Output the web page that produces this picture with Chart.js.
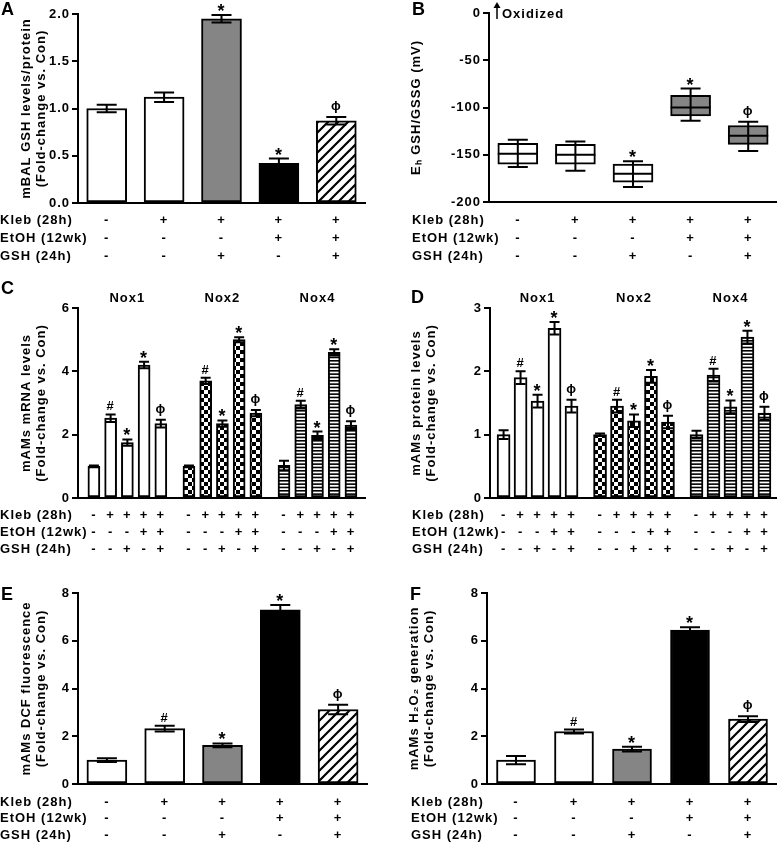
<!DOCTYPE html>
<html>
<head>
<meta charset="utf-8">
<script src="https://cdn.jsdelivr.net/npm/chart.js@4.4.0/dist/chart.umd.min.js"></script>
<style>
  body { margin: 0; background: #fff; width: 777px; height: 845px; position: relative; overflow: hidden; }
  canvas { position: absolute; }
</style>
</head>
<body>
<canvas id="chartA" width="390" height="268" style="left:0;top:0"></canvas>
<canvas id="chartB" width="387" height="268" style="left:390px;top:0"></canvas>
<canvas id="chartC" width="390" height="290" style="left:0;top:270px"></canvas>
<canvas id="chartD" width="387" height="290" style="left:390px;top:270px"></canvas>
<canvas id="chartE" width="390" height="285" style="left:0;top:560px"></canvas>
<canvas id="chartF" width="387" height="285" style="left:390px;top:560px"></canvas>
<script>
// treatment rows under every panel
const rowNames = ['Kleb (28h)', 'EtOH (12wk)', 'GSH (24h)'];
const klebSigns = ['-', '+', '+', '+', '+'];
const etohSigns = ['-', '-', '-', '+', '+'];
const gshSigns  = ['-', '-', '+', '-', '+'];

// A - BAL GSH
const balGsh    = [1.0, 1.12, 1.95, 0.42, 0.87];
const balGshErr = [0.04, 0.05, 0.04, 0.05, 0.04];
const balGshMarks = ['', '', '*', '*', 'ϕ'];

// B - Eh GSH/GSSG box plots
const ehMin = [-163, -167, -184, -114, -146];
const ehQ1  = [-160, -160, -179, -109, -139];
const ehMed = [-149, -150, -170, -100, -130];
const ehQ3  = [-138, -139, -160, -87, -119];
const ehMax = [-134, -136, -157, -80, -115];
const ehMarks = ['', '', '*', '*', 'ϕ'];

// C / D - Nox isoforms
const noxGenes = ['Nox1', 'Nox2', 'Nox4'];
const noxMarks = ['', '#', '*', '*', 'ϕ'];
const mrnaNox1 = [1.0, 2.52, 1.75, 4.2, 2.35];
const mrnaNox2 = [1.0, 3.7, 2.35, 5.0, 2.68];
const mrnaNox4 = [1.03, 2.95, 1.98, 4.6, 2.3];
const mrnaErr1 = [0.03, 0.12, 0.1, 0.1, 0.12];
const mrnaErr2 = [0.03, 0.1, 0.1, 0.08, 0.1];
const mrnaErr4 = [0.15, 0.12, 0.12, 0.1, 0.12];
const protNox1 = [1.0, 1.9, 1.53, 2.68, 1.45];
const protNox2 = [1.0, 1.45, 1.22, 1.92, 1.2];
const protNox4 = [1.0, 1.94, 1.44, 2.54, 1.34];
const protErr1 = [0.07, 0.1, 0.1, 0.1, 0.1];
const protErr2 = [0.02, 0.1, 0.1, 0.1, 0.1];
const protErr4 = [0.06, 0.1, 0.1, 0.1, 0.1];

// E / F - ROS
const rosMarks = ['', '#', '*', '*', 'ϕ'];
const dcf     = [1.0, 2.32, 1.62, 7.3, 3.12];
const dcfErr  = [0.08, 0.12, 0.08, 0.2, 0.2];
const h2o2    = [1.0, 2.2, 1.46, 6.45, 2.72];
const h2o2Err = [0.17, 0.08, 0.1, 0.12, 0.12];

const FONT = "'Liberation Sans', Arial, sans-serif";
const GAP = 0.68;   // extra space between Nox groups (in bar slots)
Chart.defaults.font.family = FONT;
Chart.defaults.font.weight = 'bold';
Chart.defaults.color = '#000';
Chart.defaults.animation = false;
Chart.defaults.plugins.legend.display = false;
Chart.defaults.plugins.tooltip.enabled = false;

function makePattern(w, h, draw) {
    const c = document.createElement('canvas');
    c.width = w; c.height = h;
    const g = c.getContext('2d');
    g.fillStyle = '#fff';
    g.fillRect(0, 0, w, h);
    g.fillStyle = '#000';
    g.strokeStyle = '#000';
    draw(g);
    return g.createPattern(c, 'repeat');
}
const hatch = makePattern(10, 10, g => {
    g.lineWidth = 2.2;
    g.beginPath();
    g.moveTo(-2, 2); g.lineTo(2, -2);
    g.moveTo(-1, 11); g.lineTo(11, -1);
    g.moveTo(8, 12); g.lineTo(12, 8);
    g.stroke();
});
const checker = makePattern(8, 8, g => {
    g.fillRect(0, 0, 4, 4);
    g.fillRect(4, 4, 4, 4);
});
const stripes = makePattern(4, 10, g => {
    g.fillRect(0, 0, 4, 1.6);
    g.fillRect(0, 3.33, 4, 1.6);
    g.fillRect(0, 6.67, 4, 1.6);
});
const GRAY = '#858585';

function signLines(i) {
    return [klebSigns[i % 5], etohSigns[i % 5], gshSigns[i % 5]];
}

function drawMark(ctx, ch, x, yTop) {
    if (!ch) return;
    ctx.textAlign = 'center';
    ctx.textBaseline = 'alphabetic';
    if (ch === '*') {
        ctx.font = 'bold 18px ' + FONT;
        ctx.fillText(ch, x, yTop + 3);
    } else if (ch === '#') {
        ctx.font = 'bold 13px ' + FONT;
        ctx.fillText(ch, x, yTop - 3);
    } else {
        ctx.font = 'bold 13px ' + FONT;
        ctx.fillText(ch, x, yTop - 6);
    }
}

// error bars, box whiskers, significance marks
const errorBars = {
    id: 'errorBars',
    afterDatasetsDraw(chart, args, opts) {
        const ctx = chart.ctx;
        const ys = chart.scales.y;
        ctx.save();
        ctx.strokeStyle = '#000';
        ctx.fillStyle = '#000';
        ctx.lineWidth = 2;
        chart.data.datasets.forEach((ds, di) => {
            chart.getDatasetMeta(di).data.forEach((bar, i) => {
                const cap = (opts.cap || bar.width / 2) / 2;
                let topPx;
                if (ds.errors) {
                    const hi = ys.getPixelForValue(ds.values[i] + ds.errors[i]);
                    const lo = ys.getPixelForValue(ds.values[i] - ds.errors[i]);
                    ctx.beginPath();
                    ctx.moveTo(bar.x, lo); ctx.lineTo(bar.x, hi);
                    ctx.moveTo(bar.x - cap, hi); ctx.lineTo(bar.x + cap, hi);
                    ctx.moveTo(bar.x - cap, lo); ctx.lineTo(bar.x + cap, lo);
                    ctx.stroke();
                    topPx = hi;
                } else if (ds.med) {
                    const half = bar.width / 2;
                    const m = ys.getPixelForValue(ds.med[i]);
                    const hi = ys.getPixelForValue(ds.hi[i]);
                    const lo = ys.getPixelForValue(ds.lo[i]);
                    ctx.beginPath();
                    ctx.moveTo(bar.x - half, m); ctx.lineTo(bar.x + half, m);
                    ctx.moveTo(bar.x, bar.y); ctx.lineTo(bar.x, hi);
                    ctx.moveTo(bar.x, bar.base); ctx.lineTo(bar.x, lo);
                    ctx.moveTo(bar.x - cap, hi); ctx.lineTo(bar.x + cap, hi);
                    ctx.moveTo(bar.x - cap, lo); ctx.lineTo(bar.x + cap, lo);
                    ctx.stroke();
                    topPx = hi;
                }
                if (ds.marks) drawMark(ctx, ds.marks[i], bar.x, topPx - 1);
            });
        });
        ctx.restore();
    }
};

// panel letter, treatment row names, group titles, extra notes
const panelText = {
    id: 'panelText',
    beforeDraw(chart) {
        chart.ctx.letterSpacing = '1px';
    },
    afterDraw(chart, args, o) {
        const ctx = chart.ctx;
        const xs = chart.scales.x;
        ctx.save();
        ctx.fillStyle = '#000';
        ctx.strokeStyle = '#000';
        if (o.letter) {
            ctx.font = 'bold 18px ' + FONT;
            ctx.textAlign = 'left';
            ctx.textBaseline = 'alphabetic';
            ctx.fillText(o.letter, o.letterX, o.letterY);
        }
        if (o.rowLh) {
            ctx.font = 'bold 13px ' + FONT;
            ctx.textAlign = 'left';
            ctx.textBaseline = 'middle';
            rowNames.forEach((name, i) => {
                ctx.fillText(name, o.rowX, xs.top + o.rowPad + o.rowLh / 2 + i * o.rowLh);
            });
        }
        if (o.groups) {
            ctx.font = 'bold 13px ' + FONT;
            ctx.textAlign = 'center';
            ctx.textBaseline = 'middle';
            o.groups.forEach((name, g) => {
                ctx.fillText(name, xs.getPixelForValue(g * (5 + GAP) + 2), o.groupY);
            });
        }
        if (o.oxidized) {
            const ys = chart.scales.y;
            const x0 = chart.chartArea.left + 8;
            const y0 = ys.getPixelForValue(0);
            ctx.lineWidth = 1.5;
            ctx.beginPath();
            ctx.moveTo(x0, y0 + 6); ctx.lineTo(x0, y0 - 9);
            ctx.stroke();
            ctx.beginPath();
            ctx.moveTo(x0 - 3.5, y0 - 5); ctx.lineTo(x0, y0 - 11); ctx.lineTo(x0 + 3.5, y0 - 5);
            ctx.closePath();
            ctx.fill();
            ctx.font = 'bold 13px ' + FONT;
            ctx.textAlign = 'left';
            ctx.textBaseline = 'middle';
            ctx.fillText(o.oxidized, x0 + 5, y0 + 1);
        }
        ctx.restore();
    }
};
Chart.register(errorBars, panelText);

function yAxis(p) {
    return {
        min: p.min, max: p.max,
        ticks: { stepSize: p.step, callback: p.fmt, font: { size: 13, weight: 'bold' }, padding: 2, color: '#000' },
        grid: { drawOnChartArea: false, drawTicks: true, tickLength: 6, color: '#000', lineWidth: 2 },
        border: { color: '#000', width: 2 },
        title: {
            display: true, text: p.title, color: '#000',
            font: { size: 13, weight: 'bold', lineHeight: '15px' },
            padding: { top: p.titlePad, bottom: 0 }
        },
        afterFit: s => { s.width = p.left; }
    };
}

function xAxis(p, extra) {
    return Object.assign({
        grid: { display: false, drawTicks: false },
        border: { color: '#000', width: 2 },
        ticks: {
            autoSkip: false, maxRotation: 0, minRotation: 0, padding: p.rowPad, color: '#000',
            font: { size: 13, weight: 'bold', lineHeight: p.rowLh + 'px' }
        },
        afterFit: s => { s.height = p.xH; }
    }, extra);
}

function baseOptions(p) {
    return {
        responsive: false,
        animation: false,
        layout: { padding: { left: 0, top: p.top, right: p.right, bottom: 0 } },
        plugins: {
            errorBars: { cap: p.cap },
            panelText: {
                letter: p.letter, letterX: p.letterX, letterY: p.letterY,
                rowX: p.rowX, rowPad: p.rowPad, rowLh: p.rowLh,
                groups: p.groups, groupY: p.groupY, oxidized: p.oxidized
            }
        }
    };
}

function simpleBars(id, values, errors, marks, fills, p) {
    const opts = baseOptions(p);
    opts.scales = {
        x: xAxis(p, { type: 'category', offset: true }),
        y: yAxis(p)
    };
    new Chart(document.getElementById(id), {
        type: 'bar',
        data: {
            labels: klebSigns.map((k, i) => signLines(i)),
            datasets: [{
                data: values, values: values, errors: errors, marks: marks,
                backgroundColor: fills, borderColor: '#000', borderWidth: 2,
                borderSkipped: false, barThickness: p.barW
            }]
        },
        options: opts
    });
}

function noxBars(id, series, errs, p) {
    const fills = ['#fff', checker, stripes];
    const ticksAt = [];
    series.forEach((s, g) => s.forEach((v, i) => ticksAt.push(g * (5 + GAP) + i)));
    const opts = baseOptions(p);
    opts.scales = {
        x: xAxis(p, {
            type: 'linear', offset: false, min: p.xMin, max: p.xMax,
            afterBuildTicks: s => { s.ticks = ticksAt.map(v => ({ value: v })); }
        }),
        y: yAxis(p)
    };
    opts.scales.x.ticks.callback = (v, i) => signLines(i);
    new Chart(document.getElementById(id), {
        type: 'bar',
        data: {
            datasets: series.map((s, g) => ({
                label: noxGenes[g],
                data: s.map((v, i) => ({ x: g * (5 + GAP) + i, y: v })),
                values: s, errors: errs[g], marks: noxMarks,
                backgroundColor: fills[g], borderColor: '#000', borderWidth: 2,
                borderSkipped: false, barThickness: p.barW, grouped: false
            }))
        },
        options: opts
    });
}

// A
simpleBars('chartA', balGsh, balGshErr, balGshMarks, ['#fff', '#fff', GRAY, '#000', hatch], {
    left: 78, top: 14, right: 25, xH: 65, rowPad: 8, rowLh: 18, rowX: 0,
    min: 0, max: 2, step: 0.5, fmt: v => v.toFixed(1),
    title: ['mBAL GSH levels/protein', '(Fold-change vs. Con)'], titlePad: 18.5,
    barW: 40, cap: 20, letter: 'A', letterX: 1, letterY: 15
});

// B - box plots as floating bars, whiskers from the plugin
(function () {
    const p = {
        left: 99, top: 13, right: 0, xH: 66, rowPad: 9, rowLh: 18, rowX: 22,
        min: -200, max: 0, step: 50, fmt: v => v,
        title: 'Eₕ GSH/GSSG (mV)', titlePad: 18.5, cap: 20,
        letter: 'B', letterX: 22, letterY: 15, oxidized: 'Oxidized'
    };
    const opts = baseOptions(p);
    opts.scales = { x: xAxis(p, { type: 'category', offset: true }), y: yAxis(p) };
    new Chart(document.getElementById('chartB'), {
        type: 'bar',
        data: {
            labels: klebSigns.map((k, i) => signLines(i)),
            datasets: [{
                data: ehQ1.map((q, i) => [q, ehQ3[i]]),
                lo: ehMin, med: ehMed, hi: ehMax, marks: ehMarks,
                backgroundColor: ['#fff', '#fff', '#fff', GRAY, GRAY],
                borderColor: '#000', borderWidth: 2, borderSkipped: false, barThickness: 40
            }]
        },
        options: opts
    });
})();

// C
noxBars('chartC', [mrnaNox1, mrnaNox2, mrnaNox4], [mrnaErr1, mrnaErr2, mrnaErr4], {
    left: 78, top: 38, right: 25, xH: 62, rowPad: 8.5, rowLh: 17, rowX: 0,
    min: 0, max: 6, step: 2, fmt: v => v,
    title: ['mAMs mRNA levels', '(Fold-change vs. Con)'], titlePad: 18.5,
    xMin: -0.95, xMax: 16.2, barW: 12, cap: 10,
    letter: 'C', letterX: 1, letterY: 24, groups: noxGenes, groupY: 28
});

// D
noxBars('chartD', [protNox1, protNox2, protNox4], [protErr1, protErr2, protErr4], {
    left: 100, top: 38, right: 0, xH: 62, rowPad: 8.5, rowLh: 17, rowX: 22,
    min: 0, max: 3, step: 1, fmt: v => v,
    title: ['mAMs protein levels', '(Fold-change vs. Con)'], titlePad: 18.5,
    xMin: -0.8, xMax: 16.1, barW: 13, cap: 10,
    letter: 'D', letterX: 21, letterY: 33, groups: noxGenes, groupY: 28
});

// E
simpleBars('chartE', dcf, dcfErr, rosMarks, ['#fff', '#fff', GRAY, '#000', hatch], {
    left: 78, top: 33, right: 23, xH: 61, rowPad: 9.7, rowLh: 16.5, rowX: 0,
    min: 0, max: 8, step: 2, fmt: v => v,
    title: ['mAMs DCF fluorescence', '(Fold-change vs. Con)'], titlePad: 18.5,
    barW: 40, cap: 20, letter: 'E', letterX: 1, letterY: 40
});

// F
simpleBars('chartF', h2o2, h2o2Err, rosMarks, ['#fff', '#fff', GRAY, '#000', hatch], {
    left: 97, top: 33, right: 0, xH: 61, rowPad: 9.7, rowLh: 16.5, rowX: 21,
    min: 0, max: 8, step: 2, fmt: v => v,
    title: ['mAMs H₂O₂ generation', '(Fold-change vs. Con)'], titlePad: 16.5,
    barW: 39, cap: 20, letter: 'F', letterX: 20, letterY: 40
});
</script>
</body>
</html>
